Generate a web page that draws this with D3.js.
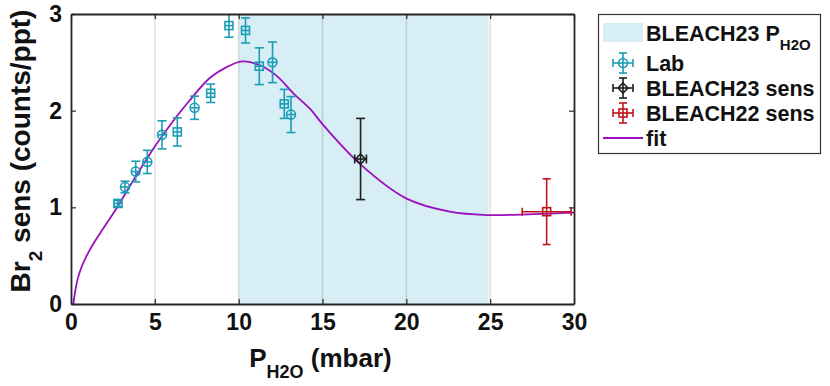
<!DOCTYPE html>
<html>
<head>
<meta charset="utf-8">
<script src="https://cdn.jsdelivr.net/npm/d3@7"></script>
<style>
  body { margin: 0; background: #fff; }
  svg text { font-family: "Liberation Sans", Arial, sans-serif; font-weight: bold; fill: #111; }
</style>
</head>
<body>
<div id="chart"></div>
<script>
// ===== data =====
const labX   = [2.8, 3.22, 3.86, 4.55, 5.43, 6.34, 7.37, 8.33, 9.42, 10.41, 11.23, 12.02, 12.72, 13.12];
const labY   = [1.04, 1.21, 1.37, 1.47, 1.75, 1.78, 2.03, 2.18, 2.88, 2.83, 2.46, 2.50, 2.07, 1.96];
const labErr = [0.03, 0.06, 0.107, 0.12, 0.145, 0.146, 0.12, 0.095, 0.12, 0.13, 0.19, 0.21, 0.15, 0.186];
const labShape = ["s", "o", "o", "o", "o", "s", "o", "s", "s", "s", "s", "o", "s", "o"];

const b23X = [17.27], b23Y = [1.50], b23Err = [0.42], b23XErr = [0.35];
const b22X = [28.37], b22Y = [0.955], b22Err = [0.34], b22XErr = [1.46];

const fitX = [0.14, 0.25, 0.4, 0.6, 0.85, 1.09, 1.5, 1.88, 2.68, 3.72, 5.0, 6.3, 7.0, 8.29, 9.28, 10.2, 11.27, 12.27, 13.26, 14.25, 15.05, 17.23, 20.02, 22.6, 24.79, 27.57, 30];
const fitY = [0, 0.13, 0.26, 0.37, 0.47, 0.55, 0.67, 0.77, 0.98, 1.28, 1.63, 1.94, 2.09, 2.34, 2.45, 2.51, 2.47, 2.36, 2.18, 2.02, 1.85, 1.45, 1.09, 0.955, 0.92, 0.93, 0.945];

const band = [10, 24.9];
const xTicks = [0, 5, 10, 15, 20, 25, 30];
const yTicks = [0, 1, 2, 3];

// ===== colours =====
const C = {
  lab: "#1a9db5",
  b23: "#1e1e1e",
  b22: "#c0141c",
  fit: "#9b0fbf",
  band: "#d6eef4",
  axis: "#262626"
};

const W = 830, H = 386;
const m = { left: 71, right: W - 574, top: 14, bottom: H - 304 };

const svg = d3.select("#chart").append("svg")
  .attr("width", W).attr("height", H);

const x = d3.scaleLinear().domain([0, 30]).range([m.left, W - m.right]);
const y = d3.scaleLinear().domain([0, 3]).range([H - m.bottom, m.top]);

svg.append("clipPath").attr("id", "clip")
  .append("rect")
  .attr("x", x(0)).attr("y", y(3))
  .attr("width", x(30) - x(0)).attr("height", y(0) - y(3));

// shaded BLEACH23 range
svg.append("rect")
  .attr("x", x(band[0])).attr("y", y(3))
  .attr("width", x(band[1]) - x(band[0]))
  .attr("height", y(0) - y(3))
  .attr("fill", C.band);

// vertical grid on top of the patch (matlab style)
svg.append("g").selectAll("line")
  .data(xTicks.slice(1, -1))
  .join("line")
  .attr("x1", d => x(d)).attr("x2", d => x(d))
  .attr("y1", y(0)).attr("y2", y(3))
  .attr("stroke", "rgba(38,38,38,0.15)")
  .attr("stroke-width", 1.5);

const plot = svg.append("g").attr("clip-path", "url(#clip)");

// fit curve
const line = d3.line().x(d => x(d[0])).y(d => y(d[1])).curve(d3.curveCatmullRom.alpha(0.5));
plot.append("path")
  .datum(d3.zip(fitX, fitY))
  .attr("d", line)
  .attr("fill", "none")
  .attr("stroke", C.fit)
  .attr("stroke-width", 1.8);

// ---------- error bar + marker helper ----------
function drawPoint(g, px, py, ey, ex, shape, col, cap) {
  const gg = g.append("g").attr("stroke", col).attr("fill", "none").attr("stroke-width", 1.6);
  // vertical bar
  gg.append("line").attr("x1", px).attr("x2", px).attr("y1", py - ey).attr("y2", py + ey);
  gg.append("line").attr("x1", px - cap).attr("x2", px + cap).attr("y1", py - ey).attr("y2", py - ey);
  gg.append("line").attr("x1", px - cap).attr("x2", px + cap).attr("y1", py + ey).attr("y2", py + ey);
  // horizontal bar
  if (ex > 0) {
    gg.append("line").attr("x1", px - ex).attr("x2", px + ex).attr("y1", py).attr("y2", py);
    gg.append("line").attr("x1", px - ex).attr("x2", px - ex).attr("y1", py - cap).attr("y2", py + cap);
    gg.append("line").attr("x1", px + ex).attr("x2", px + ex).attr("y1", py - cap).attr("y2", py + cap);
  } else {
    gg.append("line").attr("x1", px - 4.5).attr("x2", px + 4.5).attr("y1", py).attr("y2", py);
  }
  if (shape === "o") {
    gg.append("circle").attr("cx", px).attr("cy", py).attr("r", 4.5);
  } else if (shape === "s") {
    gg.append("rect").attr("x", px - 4).attr("y", py - 4).attr("width", 8).attr("height", 8);
  } else if (shape === "d") {
    gg.append("path").attr("d", `M${px},${py - 5}L${px + 5},${py}L${px},${py + 5}L${px - 5},${py}Z`);
  }
}

labX.forEach((d, i) => {
  const py = y(labY[i]);
  drawPoint(plot, x(d), py, y(labY[i] - labErr[i]) - py, 0, labShape[i], C.lab, 4.5);
});
b23X.forEach((d, i) => {
  const py = y(b23Y[i]);
  drawPoint(plot, x(d), py, y(b23Y[i] - b23Err[i]) - py, x(d + b23XErr[i]) - x(d), "d", C.b23, 4.5);
});
b22X.forEach((d, i) => {
  const py = y(b22Y[i]);
  drawPoint(plot, x(d), py, y(b22Y[i] - b22Err[i]) - py, x(d + b22XErr[i]) - x(d), "s", C.b22, 4);
});

// ---------- axes (ticks inside, box) ----------
function styleAxis(g) {
  g.selectAll(".domain").attr("stroke", C.axis).attr("stroke-width", 1.8);
  g.selectAll(".tick line").attr("stroke", C.axis).attr("stroke-width", 1.2);
  g.selectAll(".tick text")
    .style("font-family", '"Liberation Sans", Arial, sans-serif')
    .style("font-weight", "bold")
    .style("font-size", "23px")
    .attr("fill", "#111");
}

svg.append("g").attr("transform", `translate(0,${y(0)})`)
  .call(d3.axisBottom(x).tickValues(xTicks).tickSizeInner(-5).tickSizeOuter(0).tickPadding(10))
  .call(styleAxis);
svg.append("g").attr("transform", `translate(0,${y(3)})`)
  .call(d3.axisTop(x).tickValues(xTicks).tickSizeInner(-5).tickSizeOuter(0).tickFormat(""))
  .call(styleAxis);
svg.append("g").attr("transform", `translate(${x(0)},0)`)
  .call(d3.axisLeft(y).tickValues(yTicks).tickFormat(d3.format("d")).tickSizeInner(-5).tickSizeOuter(0).tickPadding(9))
  .call(styleAxis);
svg.append("g").attr("transform", `translate(${x(30)},0)`)
  .call(d3.axisRight(y).tickValues(yTicks).tickSizeInner(-5).tickSizeOuter(0).tickFormat(""))
  .call(styleAxis);

// ---------- axis labels ----------
const xl = svg.append("text")
  .attr("x", (x(0) + x(30)) / 2 - 2).attr("y", 367)
  .attr("text-anchor", "middle")
  .style("font-size", "26px");
xl.append("tspan").text("P");
xl.append("tspan").attr("dy", 11).style("font-size", "18px").text("H2O");
xl.append("tspan").attr("dy", -11).text(" (mbar)");

const yl = svg.append("text")
  .attr("transform", `translate(30,151) rotate(-90)`)
  .attr("text-anchor", "middle")
  .style("font-size", "28px");
yl.append("tspan").text("Br");
yl.append("tspan").attr("dy", 12).style("font-size", "19px").text("2");
yl.append("tspan").attr("dy", -12).text(" sens (counts/ppt)");

// ---------- legend ----------
const lg = svg.append("g");
lg.append("rect")
  .attr("x", 598.5).attr("y", 14.5).attr("width", 222).attr("height", 139)
  .attr("fill", "#fff").attr("stroke", "#333").attr("stroke-width", 1.2);

const lx = 623, tx = 646;
const rowY = [33, 63, 88, 113, 138];

lg.append("rect").attr("x", 603).attr("y", 23).attr("width", 40).attr("height", 19).attr("fill", C.band);
drawPoint(lg, lx, rowY[1], 10, 10, "o", C.lab, 4);
drawPoint(lg, lx, rowY[2], 10, 10, "d", C.b23, 4);
drawPoint(lg, lx, rowY[3], 10, 10, "s", C.b22, 4);
lg.append("line").attr("x1", 603).attr("x2", 643).attr("y1", rowY[4]).attr("y2", rowY[4])
  .attr("stroke", C.fit).attr("stroke-width", 1.8);

const labels = ["BLEACH23 P", "Lab", "BLEACH23 sens", "BLEACH22 sens", "fit"];
labels.forEach((t, i) => {
  const tt = lg.append("text")
    .attr("x", tx).attr("y", rowY[i] + 7.5)
    .style("font-size", "21.5px")
    .text(t);
  if (i === 0) {
    tt.append("tspan").attr("dy", 9).style("font-size", "15px").text("H2O");
  }
});
</script>
</body>
</html>
